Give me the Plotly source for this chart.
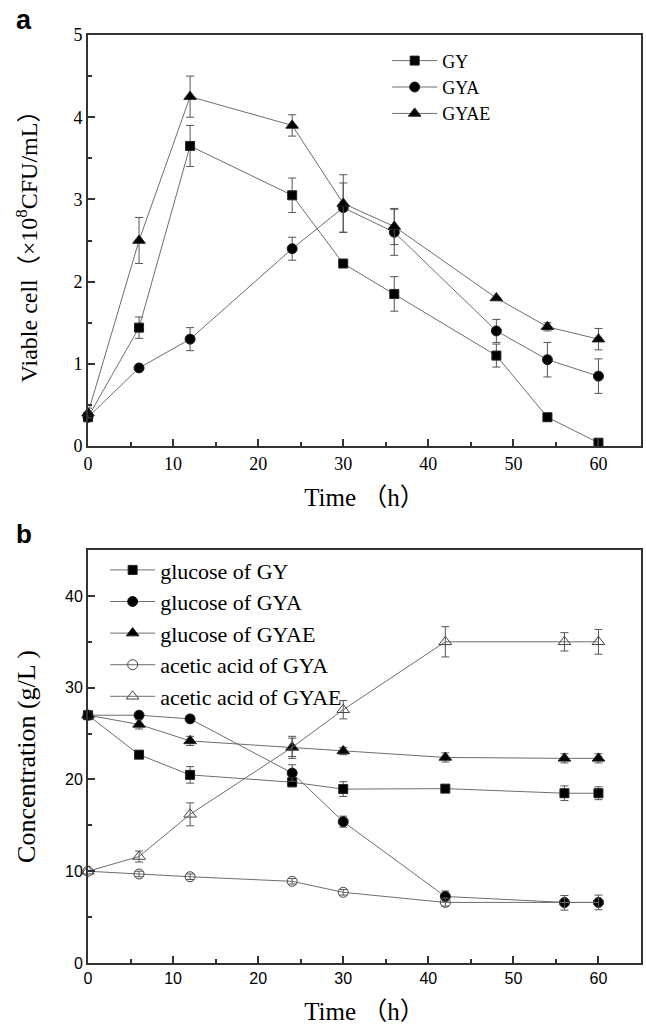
import plotly.graph_objects as go

# ---------------- data: panel a (viable cell, x10^8 CFU/mL) ----------------
time_a = [0, 6, 12, 24, 30, 36, 48, 54, 60]
gy = [0.35, 1.44, 3.65, 3.05, 2.22, 1.85, 1.10, 0.35, 0.04]
gy_err = [0.0, 0.13, 0.25, 0.21, 0.0, 0.21, 0.14, 0.04, 0.0]
gya = [0.35, 0.95, 1.30, 2.40, 2.90, 2.60, 1.40, 1.05, 0.85]
gya_err = [0.0, 0.0, 0.14, 0.14, 0.30, 0.28, 0.14, 0.21, 0.21]
gyae = [0.40, 2.50, 4.25, 3.90, 2.95, 2.67, 1.80, 1.45, 1.30]
gyae_err = [0.06, 0.28, 0.25, 0.13, 0.35, 0.22, 0.0, 0.05, 0.13]

# ---------------- data: panel b (concentration, g/L) ----------------
time_b = [0, 6, 12, 24, 30, 42, 56, 60]
glu_gy = [27.0, 22.7, 20.5, 19.7, 18.95, 19.0, 18.5, 18.5]
glu_gy_err = [0.0, 0.0, 0.9, 0.5, 0.8, 0.0, 0.8, 0.7]
glu_gya = [27.0, 27.0, 26.6, 20.7, 15.4, 7.25, 6.6, 6.6]
glu_gya_err = [0.0, 0.0, 0.0, 0.9, 0.6, 0.6, 0.0, 0.0]
glu_gyae = [27.0, 26.0, 24.2, 23.5, 23.1, 22.4, 22.3, 22.3]
glu_gyae_err = [0.0, 0.5, 0.5, 1.2, 0.4, 0.5, 0.5, 0.5]
ace_gya = [10.0, 9.7, 9.4, 8.9, 7.7, 6.6, 6.56, 6.6]
ace_gya_err = [0.0, 0.3, 0.3, 0.3, 0.3, 0.4, 0.8, 0.8]
ace_gyae = [10.0, 11.6, 16.2, 23.5, 27.6, 35.0, 35.0, 35.0]
ace_gyae_err = [0.0, 0.6, 1.25, 1.0, 1.0, 1.65, 1.0, 1.35]

names_a = ["GY", "GYA", "GYAE"]
names_b = ["glucose of GY", "glucose of GYA", "glucose of GYAE",
           "acetic acid of GYA", "acetic acid of GYAE"]

LINE = "#6e6e6e"
ERR = "#555555"
AX = "#333333"
SERIF = "Liberation Serif, Times New Roman, Noto Sans CJK SC, serif"
SANS = "Liberation Sans, Arial, sans-serif"

fig = go.Figure()

def add(x, y, err, name, symbol, size, xa, ya, leg, fill="black"):
    fig.add_trace(go.Scatter(
        x=x, y=y, name=name, mode="lines+markers",
        xaxis=xa, yaxis=ya, legend=leg, cliponaxis=False,
        line=dict(color=LINE, width=1),
        marker=dict(symbol=symbol, size=size, color=fill,
                    line=dict(color="#222222", width=1)),
        error_y=dict(type="data", array=err, visible=True,
                     color=ERR, thickness=1, width=4),
    ))

# panel a
add(time_a, gy, gy_err, names_a[0], "square", 9, "x", "y", "legend")
add(time_a, gya, gya_err, names_a[1], "circle", 10, "x", "y", "legend")
add(time_a, gyae, gyae_err, names_a[2], "triangle-up", 11, "x", "y", "legend")

# panel b
add(time_b, glu_gy, glu_gy_err, names_b[0], "square", 9, "x2", "y2", "legend2")
add(time_b, glu_gya, glu_gya_err, names_b[1], "circle", 10, "x2", "y2", "legend2")
add(time_b, glu_gyae, glu_gyae_err, names_b[2], "triangle-up", 11, "x2", "y2", "legend2")
add(time_b, ace_gya, ace_gya_err, names_b[3], "circle-open", 10, "x2", "y2", "legend2", fill="#444444")
add(time_b, ace_gyae, ace_gyae_err, names_b[4], "triangle-up-open", 11, "x2", "y2", "legend2", fill="#444444")

def xax(anchor, tickfont, tsize, title):
    return dict(anchor=anchor, domain=[0, 1], range=[0, 65], tick0=0, dtick=10,
                ticks="inside", ticklen=7, tickwidth=1.5, tickcolor=AX,
                minor=dict(dtick=5, ticks="inside", ticklen=4, tickwidth=1.5, tickcolor=AX),
                showline=True, linewidth=2, linecolor=AX, mirror=True,
                showgrid=False, zeroline=False,
                tickfont=dict(family=tickfont, size=tsize, color="black"),
                title=dict(text=title, font=dict(family=SERIF, size=25, color="black"), standoff=16))

def yax(anchor, domain, rng, dtick, mdtick, tickfont, tsize, title, title_size, standoff):
    return dict(anchor=anchor, domain=domain, range=rng, tick0=0, dtick=dtick,
                ticks="inside", ticklen=7, tickwidth=1.5, tickcolor=AX,
                minor=dict(dtick=mdtick, ticks="inside", ticklen=4, tickwidth=1.5, tickcolor=AX),
                showline=True, linewidth=2, linecolor=AX, mirror=True,
                showgrid=False, zeroline=False,
                tickfont=dict(family=tickfont, size=tsize, color="black"),
                title=dict(text=title, font=dict(family=SERIF, size=title_size, color="black"),
                           standoff=standoff))

fig.update_layout(
    width=646, height=1030,
    margin=dict(l=88, r=3, t=35, b=67),
    paper_bgcolor="white", plot_bgcolor="white",
    xaxis=xax("y", SERIF, 18, "Time （h）"),
    yaxis=yax("x", [0.5571, 1], [0, 5], 1, 0.5, SERIF, 18,
              "Viable cell（×10<sup>8</sup>CFU/mL）", 24, 29),
    xaxis2=xax("y2", SANS, 16, "Time （h）"),
    yaxis2=yax("x2", [0, 0.445], [0, 45], 10, 5, SANS, 16,
               "Concentration (g/L )", 26, 22),
    legend=dict(x=0.541, y=0.992, xanchor="left", yanchor="top",
                bgcolor="rgba(0,0,0,0)", borderwidth=0, tracegroupgap=0,
                itemwidth=45,
                font=dict(family=SERIF, size=18, color="black")),
    legend2=dict(x=0.031, y=0.446, xanchor="left", yanchor="top",
                 bgcolor="rgba(0,0,0,0)", borderwidth=0, tracegroupgap=0,
                 itemwidth=45,
                 font=dict(family=SERIF, size=22, color="black")),
    annotations=[
        dict(text="<b>a</b>", x=-0.115, y=1.016, xref="paper", yref="paper",
             showarrow=False, xanchor="center", yanchor="middle",
             font=dict(family=SANS, size=27, color="black")),
        dict(text="<b>b</b>", x=-0.115, y=0.462, xref="paper", yref="paper",
             showarrow=False, xanchor="center", yanchor="middle",
             font=dict(family=SANS, size=26, color="black")),
    ],
)

fig.write_html("out.html")
